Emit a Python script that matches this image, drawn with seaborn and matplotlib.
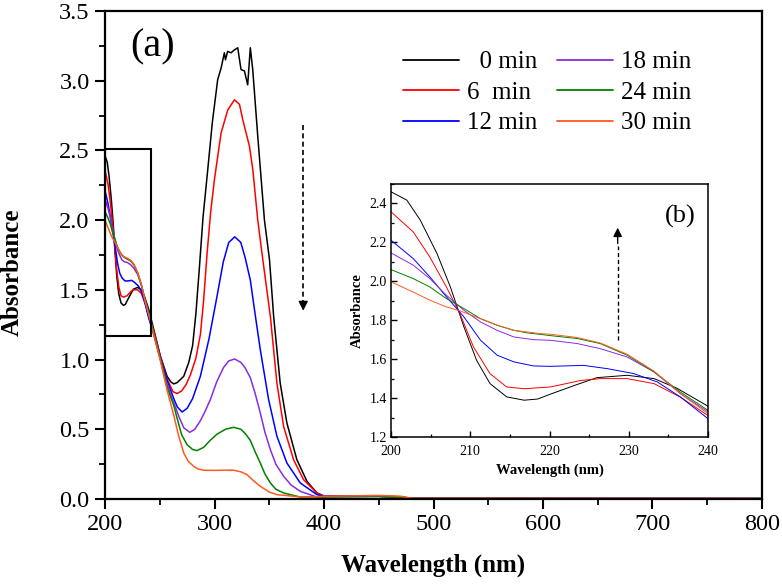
import numpy as np
import pandas as pd
import matplotlib
matplotlib.use("Agg")
import matplotlib.pyplot as plt
from matplotlib.patches import Rectangle
from matplotlib.ticker import MultipleLocator, FormatStrFormatter
import seaborn as sns

sns.set_theme(style="ticks")
plt.rcParams['font.family'] = ['Liberation Serif', 'DejaVu Serif']
for k in ['text.color', 'axes.labelcolor', 'xtick.color', 'ytick.color', 'xtick.labelcolor', 'ytick.labelcolor']:
    plt.rcParams[k] = 'black'
plt.rcParams['xtick.bottom'] = True
plt.rcParams['ytick.left'] = True

# ---------------- data ----------------
labels = ["  0 min", "6  min", "12 min", "18 min", "24 min", "30 min"]
colors = ["#000000", "#ff0000", "#0000ff", "#8a2be2", "#008000", "#ff5a1f"]

wl_0 = [200, 202, 203.7, 205.8, 207.5, 209.2, 210.8, 212.5, 214.6, 216.8, 218.5, 220.1, 223.5, 226, 229.8,
        233.2, 236.1, 240, 245, 250.6, 256.7, 260, 262.8, 266, 271.9, 276.5, 280, 283, 286.1, 289.5, 293.8, 298, 302.9,
        306, 309, 310, 312, 315.1, 318, 321.2, 324.2, 327.3, 330.3, 332.7, 334.9, 339.5, 345.6, 350.2,
        354, 360, 366.1, 375.2, 384.4, 393.5, 400, 420, 450, 470, 480, 500, 800]
abs_0 = [2.46, 2.417, 2.314, 2.143, 1.97, 1.766, 1.594, 1.474, 1.406, 1.389, 1.395, 1.42, 1.47, 1.505, 1.517,
         1.50, 1.45, 1.358, 1.20, 1.023, 0.88, 0.84, 0.825, 0.835, 0.88, 0.98, 1.10, 1.33, 1.65, 2.02, 2.36, 2.70, 3.008,
         3.09, 3.2, 3.15, 3.21, 3.2, 3.22, 3.236, 3.08, 3.07, 2.97, 3.236, 3.08, 2.6, 2.0, 1.717,
         1.31, 0.83, 0.545, 0.282, 0.127, 0.043, 0.02, 0.02, 0.02, 0.015, 0.005, 0.003, 0.003]

wl_6 = [200, 202.8, 204.9, 207, 208.7, 210.4, 212.5, 214.6, 216.8, 220.1, 223.9, 226.4, 229.8, 233.2, 236.5,
        240, 245, 250.6, 256.7, 262, 265.8, 270, 274, 278, 283, 287.1, 290, 293.2, 296.5, 299.9, 306, 312.1, 318.2, 322.8,
        325.8, 331.9, 335, 339.5, 344.1, 351, 357, 363.1, 372.2, 381.3, 393.5, 400, 450, 470, 480, 800]
abs_6 = [2.357, 2.254, 2.125, 1.97, 1.834, 1.663, 1.525, 1.457, 1.448, 1.457, 1.49, 1.50, 1.50, 1.474, 1.405,
         1.31, 1.19, 1.02, 0.86, 0.77, 0.756, 0.775, 0.82, 0.89, 1.01, 1.18, 1.42, 1.76, 2.06, 2.29, 2.625, 2.79, 2.863, 2.83,
         2.72, 2.53, 2.36, 2.0, 1.717, 1.31, 0.83, 0.52, 0.282, 0.139, 0.043, 0.022, 0.022, 0.015, 0.005, 0.003]

wl_12 = [200, 202.8, 204.9, 207, 209.2, 211.3, 213.4, 215.5, 218, 220.1, 224.3, 227.3, 230.6, 233.6, 236.5,
         240, 245, 250.6, 256.7, 262.8, 266, 270.4, 275, 280, 287.1, 295, 302.3, 308, 313, 318.5, 324, 328,
         332.7, 337, 341.8, 349.4, 357, 366.1, 378.3, 393.5, 400, 450, 480, 800]
abs_12 = [2.211, 2.117, 2.023, 1.92, 1.817, 1.697, 1.62, 1.586, 1.565, 1.563, 1.568, 1.551, 1.526, 1.483, 1.406,
          1.294, 1.17, 1.01, 0.85, 0.72, 0.66, 0.624, 0.65, 0.72, 0.88, 1.15, 1.454, 1.70, 1.84, 1.88, 1.84, 1.73,
          1.57, 1.33, 1.071, 0.713, 0.45, 0.258, 0.115, 0.031, 0.02, 0.02, 0.005, 0.003]

wl_18 = [200, 202.8, 204.9, 207, 209.2, 211.3, 213.4, 215.5, 218, 220.1, 223.5, 226.4, 229.8, 233.2, 236.5,
         240, 245, 250.6, 256.7, 262.8, 268, 272, 277.4, 282, 287, 291.5, 296.2, 302, 308.4, 313, 318.4, 324, 328,
         332.7, 337, 341.8, 346, 351, 356, 363.1, 370, 378.3, 393.5, 400, 450, 480, 800]
abs_18 = [2.146, 2.083, 2.014, 1.928, 1.851, 1.791, 1.748, 1.714, 1.70, 1.697, 1.68, 1.654, 1.611, 1.534, 1.423,
          1.329, 1.17, 1.0, 0.82, 0.69, 0.58, 0.51, 0.478, 0.50, 0.56, 0.63, 0.713, 0.84, 0.945, 0.99, 1.004, 0.98, 0.94,
          0.87, 0.76, 0.617, 0.48, 0.354, 0.25, 0.163, 0.10, 0.055, 0.014, 0.015, 0.018, 0.005, 0.003]

wl_24 = [200, 202.8, 204.9, 207, 209.2, 211.3, 213.4, 215.5, 217.2, 220.1, 223.5, 226.4, 229.8, 233.2, 236.5,
         240, 245, 250.6, 256.7, 262.8, 265.8, 270, 274.9, 280, 284, 290, 296, 302.3, 310, 317.5, 324, 328,
         332.7, 337, 341.8, 346, 351, 356, 363.1, 378.3, 390, 400, 450, 480, 800]
abs_24 = [2.06, 2.014, 1.971, 1.911, 1.86, 1.808, 1.774, 1.748, 1.735, 1.721, 1.706, 1.68, 1.62, 1.534, 1.431,
          1.337, 1.17, 1.0, 0.80, 0.67, 0.58, 0.46, 0.39, 0.355, 0.347, 0.37, 0.42, 0.465, 0.50, 0.514, 0.50, 0.47,
          0.42, 0.34, 0.258, 0.18, 0.115, 0.07, 0.043, 0.014, 0.015, 0.015, 0.018, 0.005, 0.003]

wl_30 = [200, 202.8, 204.9, 207, 208.7, 211.3, 213.4, 215.5, 218.9, 220.1, 223.5, 226.4, 229.8, 233.2, 236.5,
         240, 245, 250.6, 256.7, 262.8, 267, 271.9, 276, 281, 285, 290.1, 300, 310, 317.5, 324, 329.6, 335,
         341.8, 350, 357, 378.3, 390, 400, 450, 470, 480, 800]
abs_30 = [1.997, 1.945, 1.903, 1.868, 1.848, 1.808, 1.774, 1.748, 1.731, 1.728, 1.711, 1.683, 1.625, 1.538, 1.423,
          1.32, 1.16, 0.99, 0.78, 0.60, 0.46, 0.33, 0.27, 0.234, 0.215, 0.206, 0.205, 0.207, 0.206, 0.195, 0.175, 0.135,
          0.091, 0.05, 0.031, 0.015, 0.015, 0.02, 0.025, 0.02, 0.005, 0.003]

x_ticks_main = [200, 300, 400, 500, 600, 700, 800]
y_ticks_main = [0.0, 0.5, 1.0, 1.5, 2.0, 2.5, 3.0, 3.5]
x_ticks_inset = [200, 210, 220, 230, 240]
y_ticks_inset = [1.2, 1.4, 1.6, 1.8, 2.0, 2.2, 2.4]

series = [(wl_0, abs_0), (wl_6, abs_6), (wl_12, abs_12), (wl_18, abs_18), (wl_24, abs_24), (wl_30, abs_30)]
frames = []
for lab, (w, a) in zip(labels, series):
    frames.append(pd.DataFrame({"wl": w, "A": a, "time": lab}))
df = pd.concat(frames, ignore_index=True)
palette = dict(zip(labels, colors))

# ---------------- figure ----------------
fig = plt.figure(figsize=(7.82, 5.86), dpi=100)
ax = fig.add_axes([0.1343, 0.1485, 0.8401, 0.8328])

sns.lineplot(data=df, x="wl", y="A", hue="time", palette=palette, hue_order=labels,
             sort=False, estimator=None, lw=1.1, ax=ax, legend=False)

ax.set_xlim(200, 800)
ax.set_ylim(0, 3.5)
ax.set_xticks(x_ticks_main)
ax.set_yticks(y_ticks_main)
ax.xaxis.set_minor_locator(MultipleLocator(50))
ax.yaxis.set_minor_locator(MultipleLocator(0.25))
ax.yaxis.set_major_formatter(FormatStrFormatter('%.1f'))
ax.tick_params(axis='both', which='major', direction='out', length=7, width=1.5, color='black',
               labelsize=17.5, pad=4, top=False, right=False, bottom=True, left=True)
ax.tick_params(axis='both', which='minor', direction='out', length=4.5, width=1.3, color='black',
               top=False, right=False, bottom=True, left=True)
for s in ax.spines.values():
    s.set_visible(True)
    s.set_linewidth(1.6)
    s.set_color('black')
ax.set_xlabel("Wavelength (nm)", fontsize=18, fontweight='bold')
ax.set_ylabel("Absorbance", fontsize=18, fontweight='bold')
ax.xaxis.set_label_coords(0.5, -0.112)
ax.yaxis.set_label_coords(-0.124, 0.465)

ax.add_patch(Rectangle((200, 1.17), 42, 1.34, fill=False, lw=1.5, ec='black', zorder=5))
ax.text(0.072, 0.926, "(a)", transform=ax.transAxes, fontsize=29, ha='center', va='center')

# dashed downward arrow
ax.plot([381, 381], [2.68, 1.42], ls=(0, (3, 2)), color='black', lw=1.2)
ax.annotate("", xy=(381, 1.33), xytext=(381, 1.43),
            arrowprops=dict(arrowstyle='-|>', color='black', lw=1.0, mutation_scale=14))

# legend
handles = [plt.Line2D([], [], color=c, lw=1.3) for c in colors]
ax.legend(handles, labels, ncol=2, loc='upper left', bbox_to_anchor=(0.515, 0.913),
          bbox_transform=fig.transFigure, frameon=False, fontsize=18, handlelength=2.24,
          handletextpad=0.32, columnspacing=0.8, labelspacing=0.32, borderpad=0, borderaxespad=0)

# ---------------- inset ----------------
axi = fig.add_axes([0.5, 0.2543, 0.4054, 0.4317])
sns.lineplot(data=df, x="wl", y="A", hue="time", palette=palette, hue_order=labels,
             sort=False, estimator=None, lw=0.7, ax=axi, legend=False)
axi.set_xlim(200, 240)
axi.set_ylim(1.2, 2.5)
axi.set_xticks(x_ticks_inset)
axi.set_yticks(y_ticks_inset)
axi.xaxis.set_minor_locator(MultipleLocator(5))
axi.yaxis.set_minor_locator(MultipleLocator(0.1))
axi.yaxis.set_major_formatter(FormatStrFormatter('%.1f'))
axi.tick_params(axis='both', which='major', direction='in', length=4, width=1.0, color='black',
                labelsize=10, pad=3, top=False, right=False, bottom=True, left=True)
axi.tick_params(axis='x', which='major', pad=6)
axi.tick_params(axis='both', which='minor', direction='in', length=2.5, width=0.9, color='black',
                top=False, right=False, bottom=True, left=True)
for s in axi.spines.values():
    s.set_visible(True)
    s.set_linewidth(1.1)
    s.set_color('black')
axi.set_xlabel("Wavelength (nm)", fontsize=10.5, fontweight='bold', labelpad=4)
axi.set_ylabel("Absorbance", fontsize=10.5, fontweight='bold', labelpad=4)
axi.text(0.912, 0.87, "(b)", transform=axi.transAxes, fontsize=19, ha='center', va='center')

axi.plot([228.6, 228.6], [1.70, 2.18], ls=(0, (3, 2)), color='black', lw=1.0)
axi.annotate("", xy=(228.6, 2.29), xytext=(228.6, 2.18),
             arrowprops=dict(arrowstyle='-|>', color='black', lw=1.0, mutation_scale=13))

fig.savefig("out.png", dpi=100)
